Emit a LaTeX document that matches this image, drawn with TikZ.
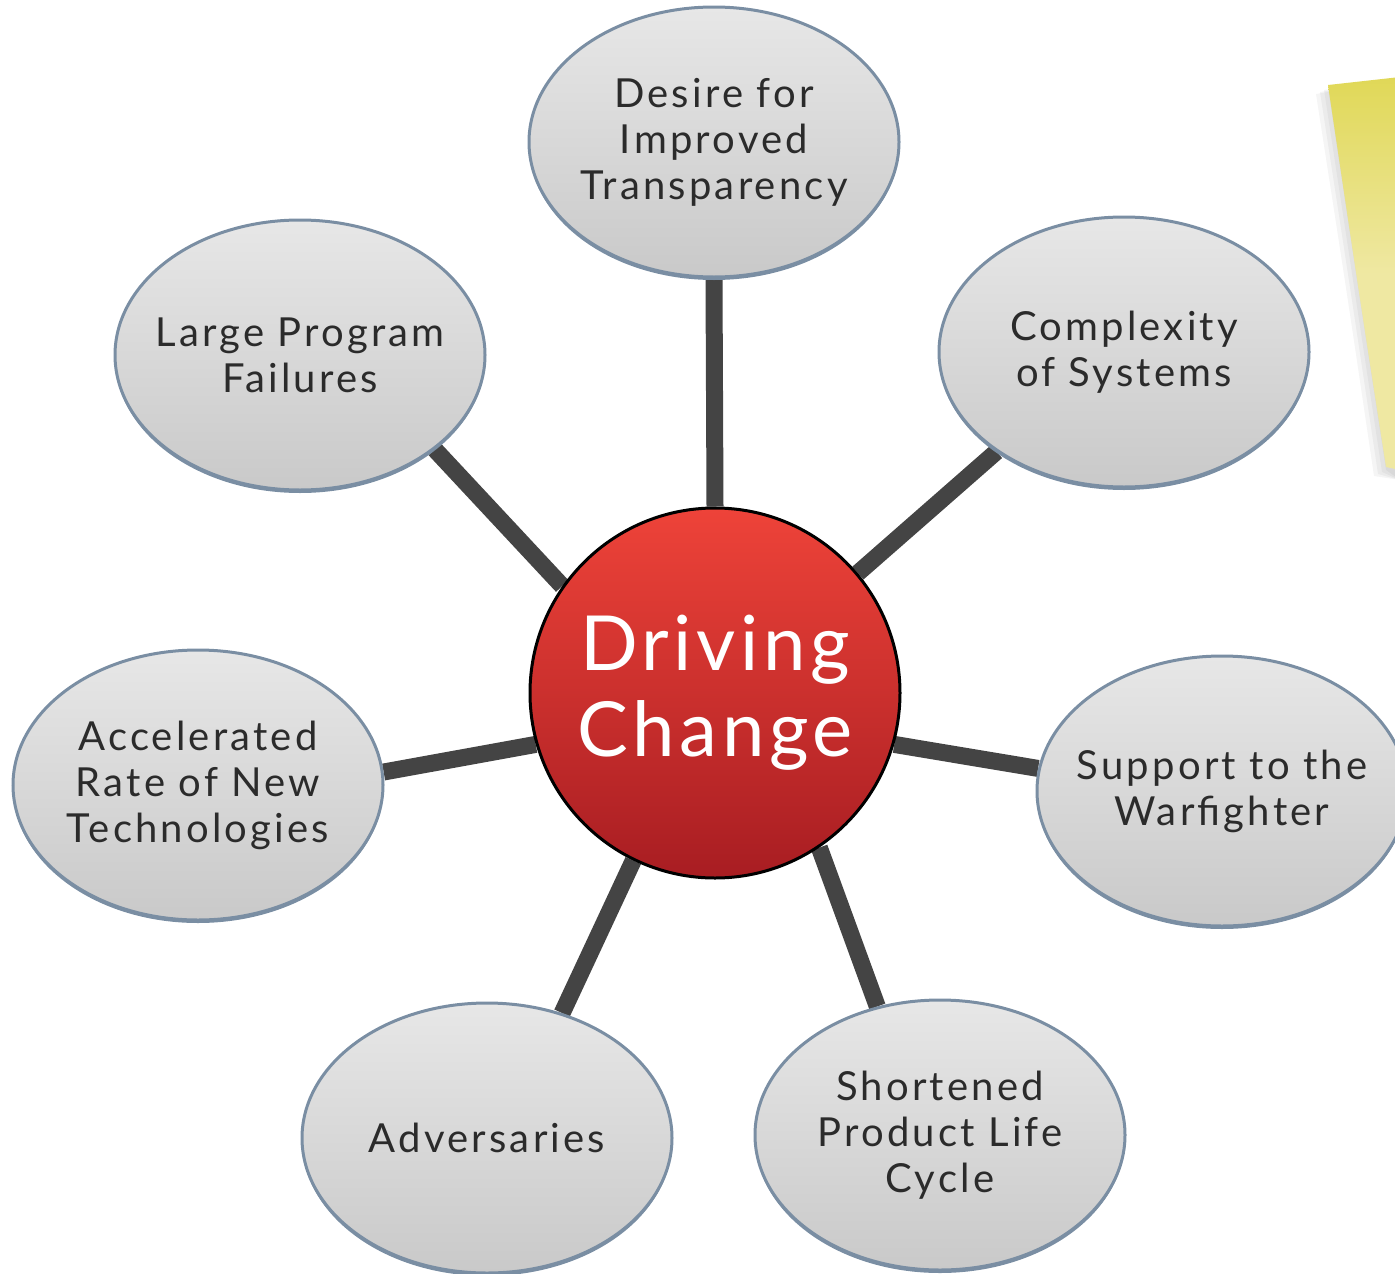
\documentclass[tikz,border=0pt]{standalone}
\usepackage{fontspec}
\setmainfont{Lato}[LetterSpace=6]
\usetikzlibrary{positioning,shapes.geometric,backgrounds}

\definecolor{bubbletop}{HTML}{E7E7E7}
\definecolor{bubblebot}{HTML}{C9C9C9}
\definecolor{bubbleedge}{HTML}{7A8EA3}
\definecolor{bubbletext}{HTML}{2B2B2B}
\definecolor{hubtop}{HTML}{EE4339}
\definecolor{hubbot}{HTML}{A81D22}
\definecolor{spokegray}{HTML}{444444}
\definecolor{notetop}{HTML}{E0D857}
\definecolor{notemid}{HTML}{EFE8A2}

\begin{document}
\begin{tikzpicture}[x=1pt,y=-1pt,
    bubble/.style={ellipse, minimum width=370pt, minimum height=270pt,
        inner xsep=-60pt, inner ysep=0pt,
        draw=bubbleedge, line width=3pt, top color=bubbletop, bottom color=bubblebot,
        preaction={fill=bubbleedge, transform canvas={yshift=-3pt}},
        text=bubbletext, align=center,
        font=\fontsize{40}{46}\selectfont\addfontfeature{LetterSpace=8}},
    hub/.style={circle, minimum size=370pt, inner sep=0pt, draw=black, line width=3pt,
        top color=hubtop, bottom color=hubbot, text=white, align=center,
        font=\fontsize{76}{86}\selectfont},
    spoke/.style={line width=17pt, draw=spokegray}]
    \useasboundingbox (0,0) rectangle (1395,1274);

    % sticky note, top right
    \foreach \s in {0,4,8,12}
        \fill[black, opacity=0.04] (1328-\s,88+\s/2) -- (1400,80) -- (1400,480) -- (1386-\s,470+\s/2)
            .. controls (1360-\s,300) .. (1328-\s,88+\s/2);
    \shade[top color=notetop, bottom color=notemid, middle color=notemid]
        (1328,85) -- (1400,77) -- (1400,470) -- (1386,467)
        .. controls (1360,300) .. (1328,85);

    \node[hub] (hub) at (715,693) {Driving\\Change};

    \node[bubble] (desire) at (714,142) {Desire for\\Improved\\Transparency};
    \node[bubble] (complexity) at (1124,352) {Complexity\\of Systems};
    \node[bubble] (support) at (1222,791) {Support to the\\Warfighter};
    \node[bubble] (shortened) at (940,1135) {Shortened\\Product Life\\Cycle};
    \node[bubble] (adversaries) at (487,1138) {Adversaries};
    \node[bubble] (accelerated) at (198,785) {Accelerated\\Rate of New\\Technologies};
    \node[bubble] (failures) at (300,355) {Large Program\\Failures};

    \begin{scope}[on background layer]
        \draw[spoke] (hub.90) -- (desire.-90);
        \draw[spoke] (hub.40) -- (complexity.218);
        \draw[spoke] (hub.-16) -- (support.173);
        \draw[spoke] (hub.-56) -- (shortened.116);
        \draw[spoke] (hub.244) -- (adversaries.59);
        \draw[spoke] (hub.196) -- (accelerated.4);
        \draw[spoke] (hub.145) -- (failures.-35);
    \end{scope}
\end{tikzpicture}
\end{document}
